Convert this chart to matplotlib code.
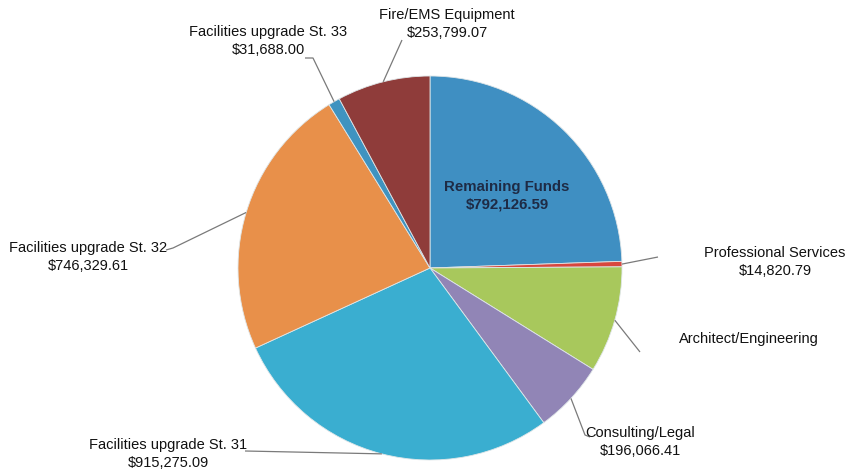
import numpy as np
import matplotlib
matplotlib.use("Agg")
import matplotlib.pyplot as plt

categories = ["Remaining Funds", "Professional Services", "Architect/Engineering",
              "Consulting/Legal", "Facilities upgrade St. 31", "Facilities upgrade St. 32",
              "Facilities upgrade St. 33", "Fire/EMS Equipment"]
values = [792126.59, 14820.79, 290000.00, 196066.41, 915275.09, 746329.61, 31688.00, 253799.07]
value_labels = ["$792,126.59", "$14,820.79", "", "$196,066.41", "$915,275.09",
                "$746,329.61", "$31,688.00", "$253,799.07"]
colors = ["#3f8fc2", "#d8463e", "#a8c85c", "#9185b6", "#3aaed0", "#e8904a", "#3f93c0", "#8f3c3a"]

W, H = 846, 472
fig = plt.figure(figsize=(W / 100, H / 100), dpi=100)
ax = fig.add_axes([0, 0, 1, 1])

def py(y):
    return H - y

cx, cy, R = 430, py(268), 192
wedges, _ = ax.pie(values, colors=colors, startangle=90, counterclock=False,
                   center=(cx, cy), radius=R,
                   wedgeprops=dict(edgecolor="#dfe6e8", linewidth=0.6))
ax.set_xlim(0, W)
ax.set_ylim(0, H)
ax.set_aspect("equal")
ax.axis("off")

fam = ["Liberation Sans", "DejaVu Sans"]
fs = 10.5

# label layout: (text x, text y, ha, elbow points)
layout = {
    1: (775, 262, "center", [(658, 257)]),
    2: (749, 339, "center", [(640, 352)]),
    3: (640, 442, "center", [(585, 435), (590, 437)]),
    4: (168, 454, "center", [(245, 451)]),
    5: (88, 257, "center", [(173, 248), (166, 250)]),
    6: (268, 41, "center", [(313, 58), (305, 58)]),
    7: (447, 24, "center", [(402, 40)]),
}

for i, w in enumerate(wedges):
    if i == 0:
        ax.text(507, py(196), categories[i] + "\n" + value_labels[i], ha="center", va="center",
                fontsize=10.8, fontweight="bold", color="#1e2b45", family=fam, linespacing=1.3)
        continue
    tx, ty, ha, elbows = layout[i]
    mid = np.deg2rad((w.theta1 + w.theta2) / 2)
    ex, ey = cx + R * np.cos(mid), cy + R * np.sin(mid)
    xs = [ex] + [p[0] for p in elbows]
    ys = [ey] + [py(p[1]) for p in elbows]
    ax.plot(xs, ys, color="#7a7a7a", lw=0.9, solid_capstyle="butt")
    txt = categories[i] if not value_labels[i] else categories[i] + "\n" + value_labels[i]
    ax.text(tx, py(ty), txt, ha=ha, va="center", fontsize=fs, color="#111111",
            family=fam, linespacing=1.3)

fig.savefig("out.png", dpi=100)
